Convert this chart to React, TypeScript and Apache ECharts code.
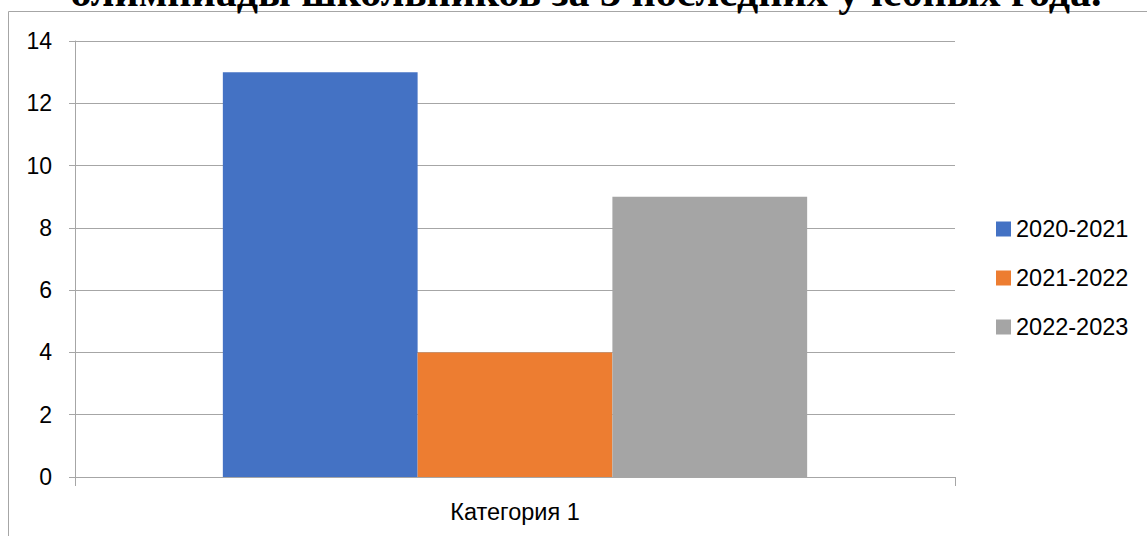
import React, { useEffect, useRef } from "react";
import * as echarts from "echarts";

const categories = ["Категория 1"];
const seriesNames = ["2020-2021", "2021-2022", "2022-2023"];
const seriesValues = [[13], [4], [9]];
const seriesColors = ["#4472C4", "#ED7D31", "#A5A5A5"];
const titleText = "олимпиады школьников за 3 последних учебных года.";

export default function App() {
  const ref = useRef<HTMLDivElement>(null);
  useEffect(() => {
    if (!ref.current) return;
    const chart = echarts.init(ref.current, null, { renderer: "svg" });
    const font = "'Liberation Sans', Arial, sans-serif";
    chart.setOption({
      animation: false,
      backgroundColor: "#ffffff",
      grid: { left: 75, right: 192, top: 41, bottom: 59, containLabel: false },
      legend: {
        orient: "vertical",
        left: 996,
        top: 217,
        padding: 0,
        itemWidth: 15,
        itemHeight: 15,
        itemGap: 25,
        icon: "rect",
        textStyle: { fontFamily: font, fontSize: 23.5, color: "#000" },
        data: seriesNames,
      },
      xAxis: {
        type: "category",
        data: categories,
        axisLine: { show: true, lineStyle: { color: "#a6a6a6", width: 1 } },
        axisTick: { show: true, length: 9, lineStyle: { color: "#a6a6a6" } },
        axisLabel: { fontFamily: font, fontSize: 23.5, color: "#000", margin: 23 },
      },
      yAxis: {
        type: "value",
        min: 0,
        max: 14,
        interval: 2,
        axisLine: { show: true, lineStyle: { color: "#a6a6a6", width: 1 } },
        axisTick: { show: true, length: 6, lineStyle: { color: "#a6a6a6" } },
        axisLabel: { fontFamily: font, fontSize: 23, color: "#000", margin: 23 },
        splitLine: { show: true, lineStyle: { color: "#a6a6a6", width: 1 } },
      },
      series: seriesNames.map((name, i) => ({
        name,
        type: "bar",
        data: seriesValues[i],
        barGap: "0%",
        barCategoryGap: "33.6%",
        itemStyle: { color: seriesColors[i] },
      })),
      graphic: [
        {
          type: "rect",
          shape: { x: 8.5, y: 11.5, width: 1150, height: 540 },
          style: { fill: "none", stroke: "#a6a6a6", lineWidth: 1 },
          silent: true,
        },
        {
          type: "text",
          x: 586,
          y: -8.5,
          style: {
            text: titleText,
            fontFamily: "'Liberation Serif', 'Times New Roman', serif",
            fontWeight: "bold",
            fontSize: 42,
            fill: "#000",
            align: "center",
            verticalAlign: "middle",
          },
          silent: true,
        },
      ],
    });
    return () => chart.dispose();
  }, []);
  return (
    <div
      ref={ref}
      style={{ position: "fixed", left: 0, top: 0, width: 1147, height: 536 }}
    />
  );
}
